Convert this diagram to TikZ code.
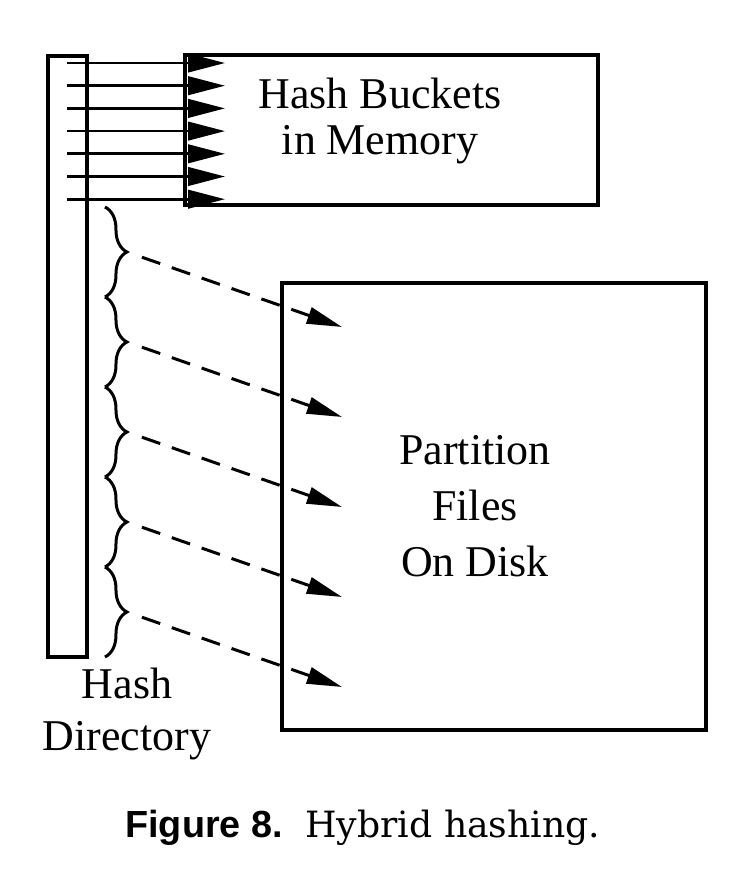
\documentclass[tikz,border=0pt]{standalone}
\usepackage{fontspec}
\setmainfont{Liberation Serif}
\newfontfamily\legendasans{Liberation Sans}
\newfontfamily\legendaserif{DejaVu Serif}
\usepackage{tikz}
\usetikzlibrary{arrows.meta}
\usetikzlibrary{positioning}
\usetikzlibrary{decorations.pathreplacing}
\tikzset{
  caixa/.style={draw, line width=1.9pt, inner sep=0pt},
  seta/.style={-{Triangle[length=21pt, width=10.5pt]}, line width=1.5pt},
  setadisco/.style={-{Triangle[length=20pt, width=9.5pt]}, line width=1.7pt, dash pattern=on 11pt off 7pt, shorten <=9pt},
  chave/.style={decorate, decoration={brace, amplitude=12.5pt, aspect=0.5}, line width=1.7pt},
  rotulo/.style={align=center, inner sep=0pt, font=\fontsize{25}{#1}\selectfont},
  rotulo/.default=26pt,
}

\begin{document}
\begin{tikzpicture}[x=0.02cm, y=-0.02cm]
  \useasboundingbox (0,0) rectangle (736,896);
  % diretorio
  \node[caixa, minimum width=0.78cm, minimum height=12.02cm] (dir) at (67.5,356.5) {};
  % baldes em memoria
  \node[caixa, minimum width=8.26cm, minimum height=3cm] (baldes) at (391.5,130) {};
  \node[rotulo=26pt] (txtbaldes) at (380,121) {Hash Buckets\\in Memory};
  % particoes em disco
  \node[caixa, minimum width=8.48cm, minimum height=8.94cm] (disco) at (494,506.5) {};
  \node[rotulo=32pt] (txtdisco) at (475,506) {Partition\\Files\\On Disk};
  \node[rotulo=29.5pt] (txtdir) at (127,714) {Hash\\Directory};
  % setas para a memoria
  \foreach \i in {0,...,6}{
    \coordinate (m\i) at (67,63+22.7*\i);
    \coordinate (b\i) at (225,63+22.7*\i);
    \draw[seta] (m\i) -- (b\i);
  }
  % chaves e setas tracejadas
  \foreach \i in {0,...,4}{
    \coordinate (c\i) at (105,207+90*\i);
    \coordinate (d\i) at (105,297+90*\i);
    \coordinate (p\i) at (127,252+90*\i);
    \coordinate (q\i) at (342,327+90*\i);
    \draw[chave] (c\i) -- (d\i);
    \draw[setadisco] (p\i) -- (q\i);
  }
  % legenda
  \node[anchor=base west, inner sep=0pt, font=\legendasans\bfseries\fontsize{21.5}{24}\selectfont] (fig) at (125,837) {Figure 8.};
  \node[anchor=base west, inner sep=0pt, font=\legendaserif\fontsize{20.6}{24}\selectfont] (legenda) at (305,837) {Hybrid hashing.};
\end{tikzpicture}
\end{document}
